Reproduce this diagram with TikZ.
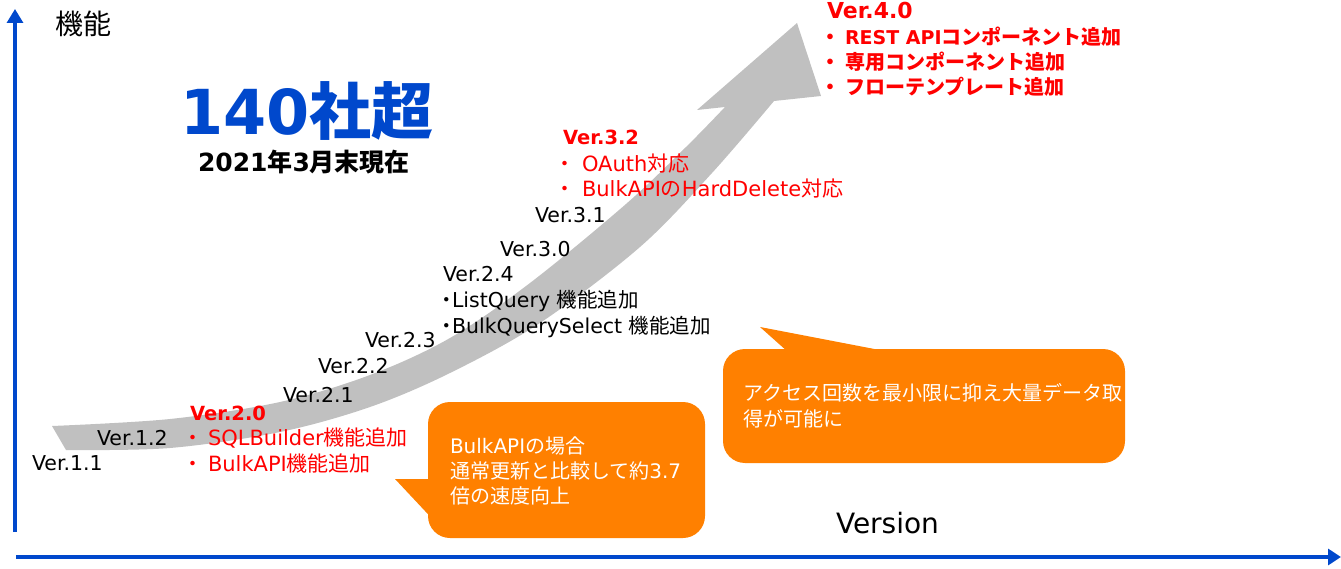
\documentclass[tikz,border=0pt]{standalone}
\usepackage{fontspec}
\setmainfont{DejaVu Sans}
\newfontfamily\jp{Noto Sans CJK JP}
\usetikzlibrary{arrows.meta}
\definecolor{axisblue}{RGB}{0,72,204}
\definecolor{bandgray}{RGB}{192,192,192}
\definecolor{callorange}{RGB}{255,128,0}
\definecolor{vred}{RGB}{255,0,0}
\newcommand\J[1]{{\jp #1}}
\newcommand\bul[1]{\makebox[0pt]{\jp ・}\hspace{#1pt}}
\tikzset{
  lbl/.style={anchor=base west, inner sep=0pt, outer sep=0pt},
  vtxt/.style={lbl, font=\fontsize{20.5}{24}\selectfont, text=black},
  rtxt/.style={lbl, font=\fontsize{21}{24}\selectfont, text=vred},
  rhead/.style={lbl, font=\fontsize{19.5}{24}\selectfont\bfseries, text=vred},
  rbold/.style={lbl, font=\fontsize{20}{24}\selectfont\bfseries, text=vred},
  wtxt/.style={lbl, font=\fontsize{20}{24}\selectfont, text=white},
  axisline/.style={axisblue, line width=3.2pt},
  bubble/.style={fill=callorange, draw=none},
}
\begin{document}
\begin{tikzpicture}[x=1pt, y=-1pt]
\useasboundingbox (0,0) rectangle (1341,569);

% axes
\coordinate (ybot) at (15,532);
\coordinate (ytop) at (15,9);
\draw[axisline, -{Triangle[length=14pt,width=16pt]}] (ybot) -- (ytop);
\coordinate (xl) at (16,557);
\coordinate (xr) at (1341,557);
\draw[axisline, -{Triangle[length=13pt,width=16pt]}] (xl) -- (xr);

% growth band
\fill[bandgray] plot[smooth, tension=0.55] coordinates {(52,426) (170,419) (280,402) (370,375) (450,338) (530,283) (626,204) (686,147) (725,107)}
  -- (697,110) -- (797,23) -- (821,96) -- (774,101)
  -- plot[smooth, tension=0.55] coordinates {(774,101) (712,173) (640,247) (540,323) (450,373) (370,407) (280,432) (170,448) (66,450)}
  -- cycle;

% callouts
\fill[bubble, rounded corners=22pt] (428,402) rectangle (705,538);
\fill[bubble] (395,479) -- (440,479) -- (440,527) -- cycle;
\fill[bubble, rounded corners=22pt] (723,349) rectangle (1125,463);
\fill[bubble] (760,327) -- (788,352) -- (890,352) -- cycle;

% titles
\node[lbl, font=\jp\fontsize{28}{32}\selectfont] (kino) at (55,35) {機能};
\node[anchor=base, inner sep=0pt, text=axisblue, font=\fontsize{62}{70}\selectfont\bfseries] (count) at (307,135) {140\J{社超}};
\node[anchor=base, inner sep=0pt, font=\fontsize{25}{30}\selectfont\bfseries] (asof) at (304,172) {2021\J{年}3\J{月末現在}};
\node[lbl, font=\fontsize{28}{32}\selectfont] (version) at (836,533) {Version};

% versions
\node[vtxt] (v11) at (32,470) {Ver.1.1};
\node[vtxt] (v12) at (97,445) {Ver.1.2};
\node[rhead] (v20) at (190,420) {Ver.2.0};
\node[rtxt] (b20a) at (193,445) {\bul{15}SQLBuilder\J{機能追加}};
\node[rtxt] (b20b) at (193,471) {\bul{15}BulkAPI\J{機能追加}};
\node[vtxt] (v21) at (283,402) {Ver.2.1};
\node[vtxt] (v22) at (318,373) {Ver.2.2};
\node[vtxt] (v23) at (365,347) {Ver.2.3};
\node[vtxt] (v24) at (443,282) {Ver.2.4};
\node[vtxt] (b24a) at (447,308) {\bul{5}ListQuery \J{機能追加}};
\node[vtxt] (b24b) at (447,334) {\bul{5}BulkQuerySelect \J{機能追加}};
\node[vtxt] (v30) at (500,257) {Ver.3.0};
\node[vtxt] (v31) at (535,223) {Ver.3.1};
\node[rhead] (v32) at (563,145) {Ver.3.2};
\node[rtxt] (b32a) at (565,172) {\bul{17}OAuth\J{対応}};
\node[rtxt] (b32b) at (565,197) {\bul{17}BulkAPI\J{の}HardDelete\J{対応}};
\node[lbl, font=\fontsize{22}{26}\selectfont\bfseries, text=vred] (v40) at (827,19) {Ver.4.0};
\node[rbold] (b40a) at (830,45) {\bul{15}{\fontsize{19}{24}\selectfont REST API}\J{コンポーネント追加}};
\node[rbold] (b40b) at (830,70) {\bul{15}\J{専用コンポーネント追加}};
\node[rbold] (b40c) at (830,95) {\bul{15}\J{フローテンプレート追加}};

% callout texts
\node[wtxt] (c1a) at (450,453) {BulkAPI\J{の場合}};
\node[wtxt] (c1b) at (450,478) {\J{通常更新と比較して約}3.7};
\node[wtxt] (c1c) at (450,503) {\J{倍の速度向上}};
\node[wtxt] (c2a) at (743,400) {\J{アクセス回数を最小限に抑え大量データ取}};
\node[wtxt] (c2b) at (743,426) {\J{得が可能に}};
\end{tikzpicture}
\end{document}
